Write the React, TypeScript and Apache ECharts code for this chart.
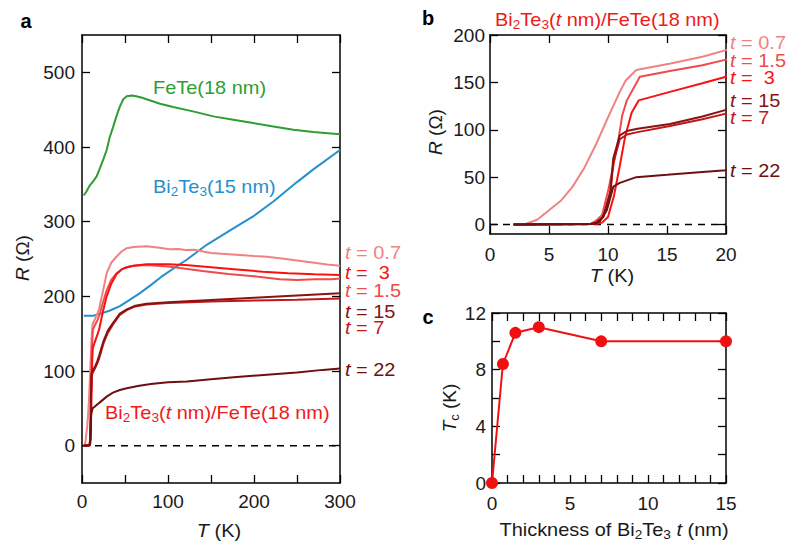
import React, { useEffect, useRef } from "react";
import * as echarts from "echarts";

const FONT = "Liberation Sans, Arial, Helvetica, sans-serif";

// ---- Panel a: reference films ----
const feteT = [2, 5, 9.3, 13, 17, 21, 25, 28.7, 32, 36.4, 40, 44, 48, 52, 58, 63, 70, 75, 83, 90.7, 106, 129, 152.7, 176, 199, 222.5, 245.8, 269, 300];
const feteR = [335, 340, 349, 354, 360.6, 372, 384, 396, 412, 427.6, 441, 454, 464, 468, 469, 468, 466, 464, 461, 458, 453.6, 447.7, 441, 436.6, 432, 427.6, 423, 420, 417];

const bteT = [2, 13, 21, 32.6, 44, 55, 67, 80, 92, 106, 121.7, 145, 176, 199, 222.5, 250, 269, 300];
const bteR = [174, 174, 176.5, 181, 187, 195, 204, 215, 226, 237, 249, 269, 291, 307, 327, 353, 370, 396];

// ---- Bi2Te3(t nm)/FeTe(18 nm) heterostructures ----
const t07T = [2, 3, 4, 5, 6, 7, 8, 9, 10, 11, 11.5, 12.4, 15.3, 18, 20, 24, 28.7, 34, 40, 46, 52, 60, 75, 90, 102, 112, 120, 130, 150, 175, 200, 215, 230, 250, 270, 285, 300];
const t07R = [0, 0.5, 5, 15, 25, 40, 60, 85, 113, 140, 152, 163, 170, 177, 184, 205, 231, 245, 253, 260, 264.5, 266, 267, 265, 263, 263.5, 262, 262.5, 258, 256, 254, 253, 251, 248, 245, 242.5, 241];

const t15T = [2, 8.5, 9, 9.5, 10, 10.5, 10.9, 11.2, 11.6, 12.7, 15.25, 18, 20, 24, 28.7, 34, 40.3, 46, 52, 60, 75, 100, 114, 140, 170, 200, 230, 250, 270, 290, 300];
const t15R = [0, 0.5, 4, 10, 35, 65, 91, 115, 131, 156, 162, 168, 174, 190, 208, 222, 231, 236, 239, 241, 242, 240, 237.8, 234, 230, 227, 223, 222, 223, 223, 224];

const t3T = [2, 9, 9.5, 10, 10.5, 11, 11.44, 12, 12.6, 15.25, 18, 20, 24, 28.7, 34, 40.3, 46, 52, 60, 75, 100, 120, 150, 180, 210, 240, 270, 300];
const t3R = [0, 0.5, 2, 8, 30, 62, 92, 118, 131, 140, 149, 156, 178, 200, 217, 230, 236, 239, 241, 243, 243, 242, 239, 236, 233, 231, 229.5, 228.5];

const t7T = [2, 8.5, 9, 9.6, 10.2, 10.45, 11, 11.6, 12.5, 15.25, 18, 20, 25, 30, 36.4, 44, 52, 62, 75, 100, 150, 200, 250, 300];
const t7R = [0, 0.5, 2, 8, 33, 65, 90, 95, 97.5, 104, 111, 117, 137, 151, 163, 175, 181.5, 186.5, 189, 191, 193, 194.5, 195.5, 197];

const t15nmT = [2, 8.5, 9, 9.6, 10.2, 10.45, 11, 11.6, 12.5, 15.25, 18, 20, 25, 30, 36.4, 44, 52, 62, 75, 100, 150, 200, 250, 300];
const t15nmR = [0, 0.5, 2, 8, 35, 70, 94, 98.7, 101, 106, 114, 121, 140, 154, 165, 177, 182.5, 187.5, 190, 192, 195, 198, 201, 204];

const t22T = [2, 8.8, 9.3, 9.9, 10.45, 11, 12.4, 15, 18, 20, 28.7, 36, 44, 52, 65, 80, 100, 122, 150, 180, 215, 250, 280, 300];
const t22R = [0, 0.5, 3, 15, 40, 44, 50, 52.5, 55.5, 57.3, 65.7, 71, 74.5, 77, 80, 82.5, 85, 86, 89, 92, 95, 98, 101.5, 103.5];

// ---- Panel c ----
const thicknessNm = [0, 0.7, 1.5, 3, 7, 15];
const tcK = [0, 8.4, 10.6, 11, 10, 10];

// ---- Ticks ----
const aYTicks = [0, 100, 200, 300, 400, 500];
const bYTicks = [0, 50, 100, 150, 200];

const zip = (xs: number[], ys: number[]) => xs.map((x, i) => [x, ys[i]]);

const GREEN = "#2e9e32";
const BLUE = "#2590cc";
const RED = "#f01a1a";

const samples = [
  { label: "0.7", T: t07T, R: t07R, color: "#f08282" },
  { label: "1.5", T: t15T, R: t15R, color: "#f04a4a" },
  { label: " 3", T: t3T, R: t3R, color: "#fa1010" },
  { label: "7", T: t7T, R: t7R, color: "#c41616" },
  { label: "15", T: t15nmT, R: t15nmR, color: "#861414" },
  { label: "22", T: t22T, R: t22R, color: "#6e1010" },
];

type Part = [string, string];
const rt = (parts: Part[]) => parts.map(([s, k]) => `{${k}|${s}}`).join("");

const richFor = (color: string, size: number) => ({
  n: { fill: color, fontSize: size, fontFamily: FONT, lineHeight: 24, verticalAlign: "middle" },
  i: { fill: color, fontSize: size, fontFamily: FONT, fontStyle: "italic", lineHeight: 24, verticalAlign: "middle" },
  s: { fill: color, fontSize: Math.round(size * 0.68), fontFamily: FONT, lineHeight: 13, verticalAlign: "bottom" },
});

function txt(parts: Part[], x: number, y: number, color: string, o: any = {}) {
  const size = o.size ?? 19;
  const align = o.align ?? "left";
  return {
    type: "text",
    x,
    y,
    rotation: o.rotation ?? 0,
    scaleX: o.scaleX ?? 1.05,
    z: 100,
    style: {
      text: rt(parts),
      fill: color,
      fontSize: size,
      fontFamily: FONT,
      fontWeight: o.weight ?? "normal",
      lineHeight: 24,
      align,
      verticalAlign: "middle",
      textAlign: align,
      textVerticalAlign: "middle",
      rich: richFor(color, size),
    },
  };
}

function panelLetter(ch: string, x: number, y: number) {
  return {
    type: "text",
    x,
    y,
    z: 100,
    style: {
      text: ch,
      fill: "#000",
      fontSize: 20,
      fontWeight: "bold",
      fontFamily: FONT,
      align: "center",
      verticalAlign: "middle",
      textAlign: "center",
      textVerticalAlign: "middle",
    },
  };
}

const axisBase = (extra: any) => ({
  type: "value",
  axisLine: { show: true, onZero: false, lineStyle: { color: "#000", width: 1.5 } },
  axisTick: { show: true, inside: true, length: 8, lineStyle: { color: "#000", width: 1.3 } },
  splitLine: { show: false },
  axisLabel: { color: "#1a1a1a", fontSize: 19, fontFamily: FONT },
  ...extra,
});

export default function App() {
  const ref = useRef<HTMLDivElement>(null);

  useEffect(() => {
    document.body.style.margin = "0";
    if (!ref.current) return;
    const chart = echarts.init(ref.current, undefined, { renderer: "svg" });

    const xAxis = [
      axisBase({ gridIndex: 0, min: 0, max: 300, interval: 50, position: "bottom",
        axisLabel: { color: "#1a1a1a", fontSize: 19, fontFamily: FONT, margin: 9, formatter: (v: number) => (v % 100 === 0 ? String(v) : "") } }),
      axisBase({ gridIndex: 0, min: 0, max: 300, interval: 50, position: "top", axisLabel: { show: false } }),
      axisBase({ gridIndex: 1, min: 0, max: 20, interval: 5, position: "bottom",
        axisLabel: { color: "#1a1a1a", fontSize: 19, fontFamily: FONT, margin: 11 } }),
      axisBase({ gridIndex: 1, min: 0, max: 20, interval: 5, position: "top", axisLabel: { show: false } }),
      axisBase({ gridIndex: 2, min: 0, max: 15, interval: 1, position: "bottom",
        axisLabel: { color: "#1a1a1a", fontSize: 19, fontFamily: FONT, margin: 11, formatter: (v: number) => (v % 5 === 0 ? String(v) : "") } }),
      axisBase({ gridIndex: 2, min: 0, max: 15, interval: 1, position: "top", axisLabel: { show: false } }),
    ];

    const yAxis = [
      axisBase({ gridIndex: 0, min: -50, max: 550, interval: 50, position: "left",
        axisTick: { show: true, inside: true, length: 8, customValues: aYTicks, lineStyle: { color: "#000", width: 1.3 } },
        axisLabel: { color: "#1a1a1a", fontSize: 19, fontFamily: FONT, margin: 7, customValues: aYTicks } }),
      axisBase({ gridIndex: 0, min: -50, max: 550, interval: 50, position: "right",
        axisTick: { show: true, inside: true, length: 8, customValues: aYTicks, lineStyle: { color: "#000", width: 1.3 } },
        axisLabel: { show: false } }),
      axisBase({ gridIndex: 1, min: -10, max: 200, interval: 10, position: "left",
        axisTick: { show: true, inside: true, length: 8, customValues: bYTicks, lineStyle: { color: "#000", width: 1.3 } },
        axisLabel: { color: "#1a1a1a", fontSize: 19, fontFamily: FONT, margin: 5, customValues: bYTicks } }),
      axisBase({ gridIndex: 1, min: -10, max: 200, interval: 10, position: "right",
        axisTick: { show: true, inside: true, length: 8, customValues: bYTicks, lineStyle: { color: "#000", width: 1.3 } },
        axisLabel: { show: false } }),
      axisBase({ gridIndex: 2, min: 0, max: 12, interval: 2, position: "left",
        axisLabel: { color: "#1a1a1a", fontSize: 19, fontFamily: FONT, margin: 6, formatter: (v: number) => (v % 4 === 0 ? String(v) : "") } }),
      axisBase({ gridIndex: 2, min: 0, max: 12, interval: 2, position: "right", axisLabel: { show: false } }),
    ];

    const series: any[] = [];
    // zero dashed lines
    series.push({ type: "line", xAxisIndex: 0, yAxisIndex: 0, data: [[0, 0], [300, 0]], symbol: "none", silent: true,
      lineStyle: { color: "#000", width: 1.5, type: [7, 6] }, z: 1 });
    series.push({ type: "line", xAxisIndex: 2, yAxisIndex: 2, data: [[0, 0], [20, 0]], symbol: "none", silent: true,
      lineStyle: { color: "#000", width: 1.5, type: [7, 6] }, z: 1 });

    series.push({ type: "line", xAxisIndex: 0, yAxisIndex: 0, data: zip(feteT, feteR), symbol: "none",
      lineStyle: { color: GREEN, width: 2 }, z: 3 });
    series.push({ type: "line", xAxisIndex: 0, yAxisIndex: 0, data: zip(bteT, bteR), symbol: "none",
      lineStyle: { color: BLUE, width: 2 }, z: 3 });

    samples.forEach((s) => {
      series.push({ type: "line", xAxisIndex: 0, yAxisIndex: 0, data: zip(s.T, s.R), symbol: "none",
        lineStyle: { color: s.color, width: 2 }, z: 4 });
      series.push({ type: "line", xAxisIndex: 2, yAxisIndex: 2, data: zip(s.T, s.R), symbol: "none", clip: true,
        lineStyle: { color: s.color, width: 2 }, z: 4 });
    });

    series.push({ type: "line", xAxisIndex: 4, yAxisIndex: 4, data: zip(thicknessNm, tcK), symbol: "circle", symbolSize: 12,
      clip: false, itemStyle: { color: "#f01010" }, lineStyle: { color: "#f01010", width: 2 }, z: 5 });

    const aLabelY: Record<string, number> = { "0.7": 252.5, " 3": 272, "1.5": 290, "15": 311, "7": 327.5, "22": 369 };
    const bLabelY: Record<string, number> = { "0.7": 41.7, "1.5": 59.7, " 3": 77, "15": 99.7, "7": 117, "22": 170.3 };

    const graphic: any[] = [
      panelLetter("a", 26, 21),
      panelLetter("b", 428, 18),
      panelLetter("c", 428, 317),
      txt([["FeTe(18 nm)", "n"]], 153, 87, GREEN),
      txt([["Bi", "n"], ["2", "s"], ["Te", "n"], ["3", "s"], ["(15 nm)", "n"]], 153, 186, BLUE),
      txt([["Bi", "n"], ["2", "s"], ["Te", "n"], ["3", "s"], ["(", "n"], ["t", "i"], [" nm)/FeTe(18 nm)", "n"]], 105, 412, RED),
      txt([["Bi", "n"], ["2", "s"], ["Te", "n"], ["3", "s"], ["(", "n"], ["t", "i"], [" nm)/FeTe(18 nm)", "n"]], 495, 19, RED),
      // axis names
      txt([["T", "i"], [" (K)", "n"]], 219, 530, "#1a1a1a", { align: "center" }),
      txt([["R", "i"], [" (Ω)", "n"]], 22, 258, "#1a1a1a", { align: "center", rotation: Math.PI / 2, scaleX: 1 }),
      txt([["T", "i"], [" (K)", "n"]], 612, 275, "#1a1a1a", { align: "center" }),
      txt([["R", "i"], [" (Ω)", "n"]], 435, 132, "#1a1a1a", { align: "center", rotation: Math.PI / 2, scaleX: 1 }),
      txt([["Thickness of Bi", "n"], ["2", "s"], ["Te", "n"], ["3", "s"], [" ", "n"], ["t", "i"], [" (nm)", "n"]], 614, 529, "#1a1a1a", { align: "center" }),
      txt([["T", "i"], ["c", "s"], [" (K)", "n"]], 449, 408, "#1a1a1a", { align: "center", rotation: Math.PI / 2, scaleX: 1 }),
    ];
    samples.forEach((s) => {
      graphic.push(txt([["t", "i"], [" = " + s.label, "n"]], 345, aLabelY[s.label], s.color));
      graphic.push(txt([["t", "i"], [" = " + s.label, "n"]], 730, bLabelY[s.label], s.color));
    });

    chart.setOption({
      animation: false,
      backgroundColor: "#fff",
      grid: [
        { left: 82, top: 35, width: 258, height: 448 },
        { left: 490, top: 35, width: 236, height: 199 },
        { left: 492, top: 313, width: 234, height: 170 },
      ],
      xAxis,
      yAxis,
      series,
      graphic,
    });

    return () => chart.dispose();
  }, []);

  return <div ref={ref} style={{ width: 788, height: 545 }} />;
}
